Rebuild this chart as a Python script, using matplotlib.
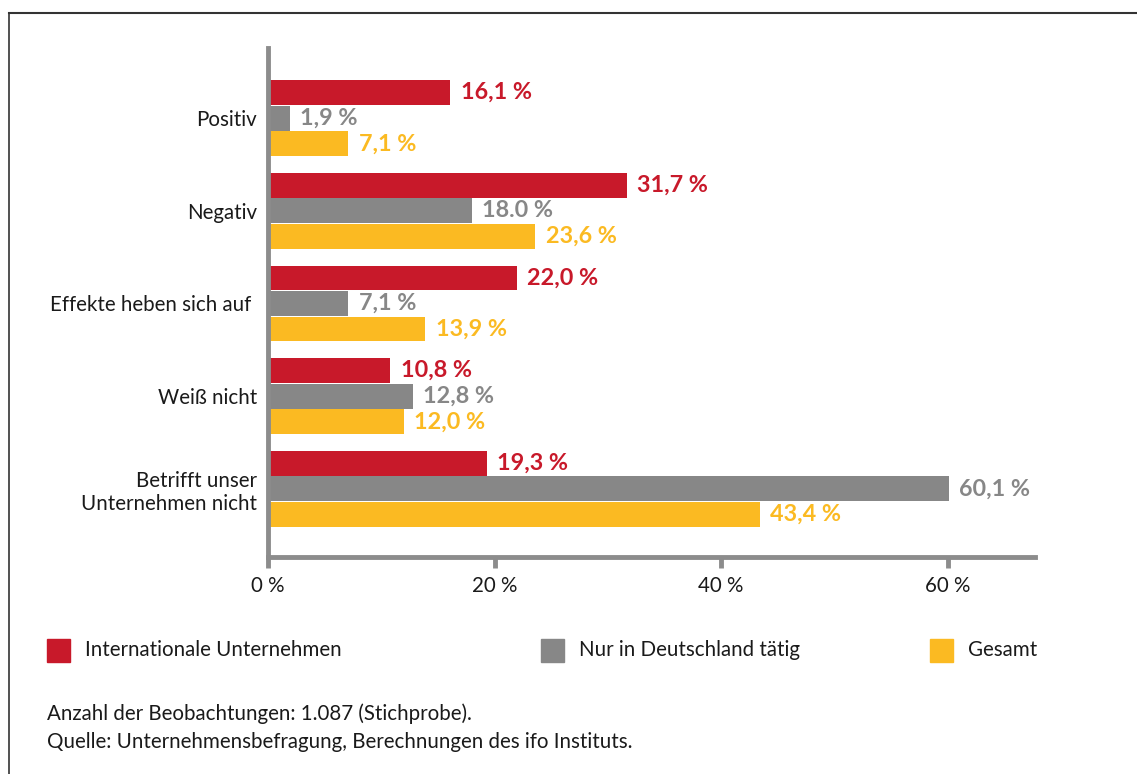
import numpy as np
import matplotlib.pyplot as plt
from matplotlib.patches import Rectangle
from matplotlib.lines import Line2D

plt.rcParams['font.family'] = ['Lato', 'DejaVu Sans']

# Data
categories = ["Positiv", "Negativ", "Effekte heben sich auf ", "Weiß nicht",
              "Betrifft unser\nUnternehmen nicht"]
international = [16.1, 31.7, 22.0, 10.8, 19.3]
nur_deutschland = [1.9, 18.0, 7.1, 12.8, 60.1]
gesamt = [7.1, 23.6, 13.9, 12.0, 43.4]
series_names = ["Internationale Unternehmen", "Nur in Deutschland tätig", "Gesamt"]
xticks = [0, 20, 40, 60]

colors = ['#C8192A', '#878787', '#FBBA22']
axis_grey = '#8C8C8C'
txt = '#1a1a1a'
fs = 14.8

fig = plt.figure(figsize=(11.37, 7.74), dpi=100)
ax = fig.add_axes([0.2357, 0.2804, 0.9103 - 0.2357, 0.938 - 0.2804])

y = np.arange(len(categories))
h = 0.276
series = [international, nur_deutschland, gesamt]
for i, (vals, col) in enumerate(zip(series, colors)):
    pos = y + (i - 1) * h
    ax.barh(pos, vals, height=h * 0.97, color=col, zorder=2)
    for p, v in zip(pos, vals):
        label = f"{v:.1f} %".replace('.', ',')
        if i == 1 and v == 18.0:
            label = "18.0 %"  # as printed in the original
        ax.text(v + 0.9, p, label, color=col, fontsize=16.8, fontweight='bold',
                va='center', ha='left')

ax.set_xlim(0, 67.7)
ax.set_ylim(4.735, -0.757)
ax.set_yticks(y)
ax.set_yticklabels(categories, fontsize=fs, color=txt)
ax.tick_params(axis='y', length=0, pad=8)
ax.set_xticks(xticks)
ax.set_xticklabels([f"{t} %" for t in xticks], fontsize=fs, color=txt)
ax.tick_params(axis='x', length=8, width=3.5, color=axis_grey, pad=6)

for s in ['top', 'right']:
    ax.spines[s].set_visible(False)
for s in ['left', 'bottom']:
    ax.spines[s].set_color(axis_grey)
    ax.spines[s].set_linewidth(3.5)
for lab in ax.get_yticklabels():
    lab.set_multialignment('right')

# Legend
leg_x = [47, 541, 930]
for nm, col, lx in zip(series_names, colors, leg_x):
    fig.patches.append(Rectangle((lx / 1137, 1 - 662 / 774), 23 / 1137, 23 / 774,
                                 transform=fig.transFigure, color=col))
    fig.text((lx + 38) / 1137, 1 - 650 / 774, nm, fontsize=fs, va='center', color=txt)

fig.text(47 / 1137, 1 - 714 / 774, "Anzahl der Beobachtungen: 1.087 (Stichprobe).",
         fontsize=fs, va='center', color=txt)
fig.text(47 / 1137, 1 - 742 / 774, "Quelle: Unternehmensbefragung, Berechnungen des ifo Instituts.",
         fontsize=fs, va='center', color=txt)

# Frame lines
fig.lines.append(Line2D([9 / 1137, 1], [1 - 13 / 774, 1 - 13 / 774], transform=fig.transFigure,
                        color='#333333', lw=1.5))
fig.lines.append(Line2D([9 / 1137, 9 / 1137], [0, 1 - 13 / 774], transform=fig.transFigure,
                        color='#333333', lw=1.2))

fig.savefig("out.png", dpi=100)
